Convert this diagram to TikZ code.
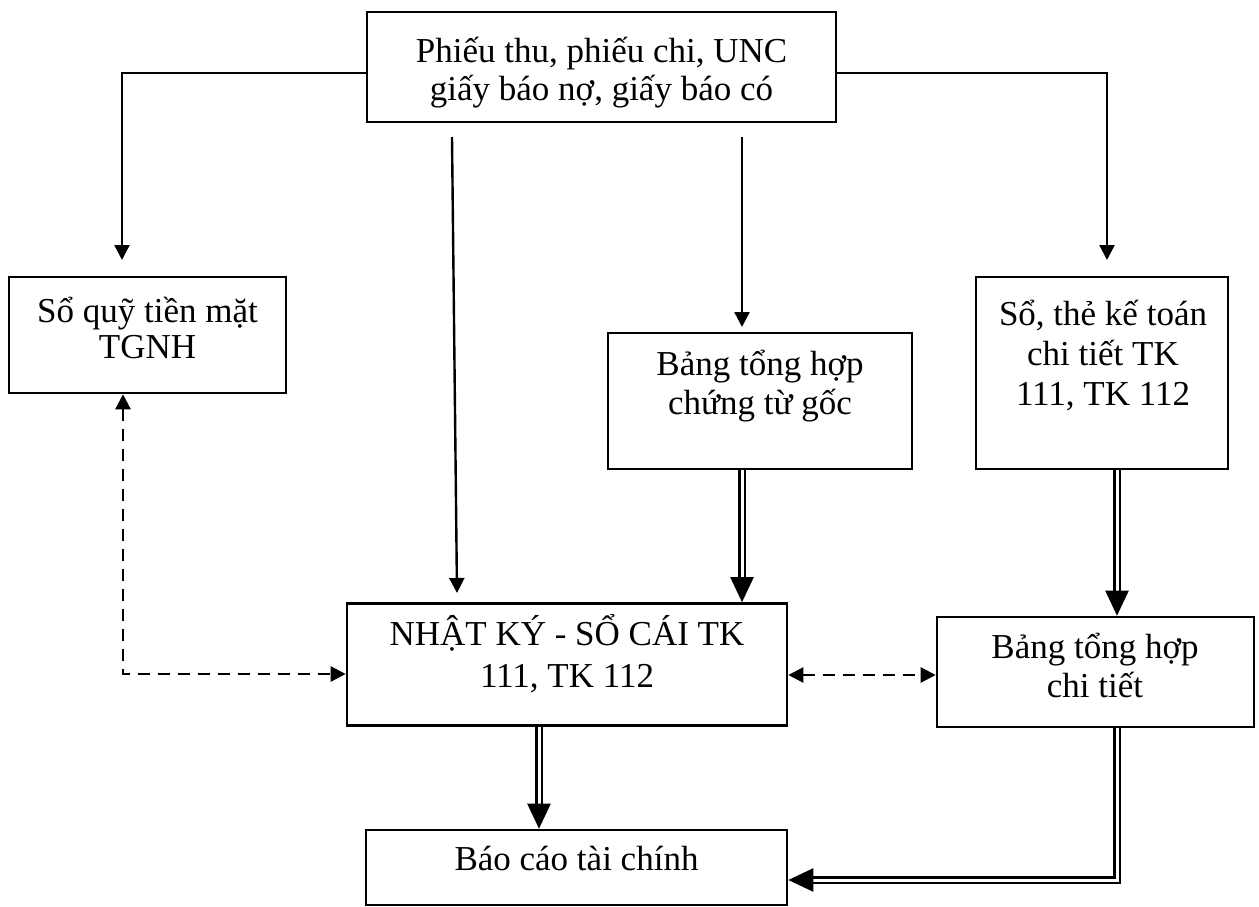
\documentclass[tikz,border=0pt]{standalone}
\usepackage{fontspec}
\setmainfont{Liberation Serif}
\usetikzlibrary{arrows.meta}
\begin{document}
\begin{tikzpicture}[x=1pt,y=-1pt,
  box/.style={draw, line width=2.6pt, inner sep=0pt},
  txt/.style={anchor=base, inner sep=0pt, font=\fontsize{35}{40}\selectfont},
  arr/.style={line width=2.4pt, -{Triangle[length=15pt,width=15pt]}},
  dbl/.style={double, double distance=3pt, line width=2.4pt, line join=miter,
              -{Triangle[length=25pt,width=23pt]}},
  dsh/.style={line width=2.4pt, dash pattern=on 12pt off 8pt,
              {Triangle[length=15pt,width=15pt]}-{Triangle[length=15pt,width=15pt]}}]
\useasboundingbox (0,0) rectangle (1259,907);

% boxes
\node[box, minimum width=469pt, minimum height=110pt] (top) at (601.5,67) {};
\node[box, minimum width=277pt, minimum height=116pt] (quy) at (147.5,335) {};
\node[box, minimum width=304pt, minimum height=136pt] (bth) at (760,401) {};
\node[box, minimum width=252pt, minimum height=192pt] (the) at (1102,373) {};
\node[box, minimum width=440pt, minimum height=122pt] (nk)  at (567,664.5) {};
\node[box, minimum width=317pt, minimum height=110pt] (ct)  at (1095.5,672) {};
\node[box, minimum width=421pt, minimum height=75pt]  (bc)  at (576.5,867.5) {};

% labels
\node[txt] (top1) at (601.5,63) {Phiếu thu, phiếu chi, UNC};
\node[txt] (top2) at (601.5,100) {giấy báo nợ, giấy báo có};
\node[txt] (quy1) at (147.5,322) {Sổ quỹ tiền mặt};
\node[txt] (quy2) at (147.5,358) {TGNH};
\node[txt] (bth1) at (760,375) {Bảng tổng hợp};
\node[txt] (bth2) at (760,414) {chứng từ gốc};
\node[txt] (the1) at (1103,325) {Sổ, thẻ kế toán};
\node[txt] (the2) at (1103,365) {chi tiết TK};
\node[txt] (the3) at (1103,405) {111, TK 112};
\node[txt] (nk1)  at (567,645) {NHẬT KÝ - SỔ CÁI TK};
\node[txt] (nk2)  at (567,687) {111, TK 112};
\node[txt] (ct1)  at (1095,658) {Bảng tổng hợp};
\node[txt] (ct2)  at (1095,697) {chi tiết};
\node[txt] (bc1)  at (576.5,870) {Báo cáo tài chính};

% helper points for connector routing
\coordinate (ql) at (122,260);
\coordinate (qr) at (1107,260);
\coordinate (s1) at (452,137);
\coordinate (e1) at (457,593);
\coordinate (s2) at (742,137);
\coordinate (e2) at (742,327);
\coordinate (xr) at (1117,880);
\coordinate (xm) at (539,760);
\coordinate (dy) at (860,675);
\coordinate (dl) at (123,674);

% single-line flows from the source documents
\draw[arr] ([yshift=-6pt]top.west) -| (ql);
\draw[arr] ([yshift=-6pt]top.east) -| (qr);
\draw[arr] (s1) -- (e1);
\draw[arr] (s2) -- (e2);

% summary flows (double lines)
\draw[dbl] (bth.south -| s2) -- (nk.north -| s2);
\draw[dbl] (the.south -| xr) -- (ct.north -| xr);
\draw[dbl] (nk.south -| xm) -- (bc.north -| xm);
\draw[dbl] (ct.south -| xr) -- (xr) -- (bc.east |- xr);

% reconciliation (dashed, both ways)
\draw[dsh] (quy.south -| dl) |- (nk.west |- dl);
\draw[dsh] (nk.east |- dy) -- (ct.west |- dy);
\end{tikzpicture}
\end{document}
